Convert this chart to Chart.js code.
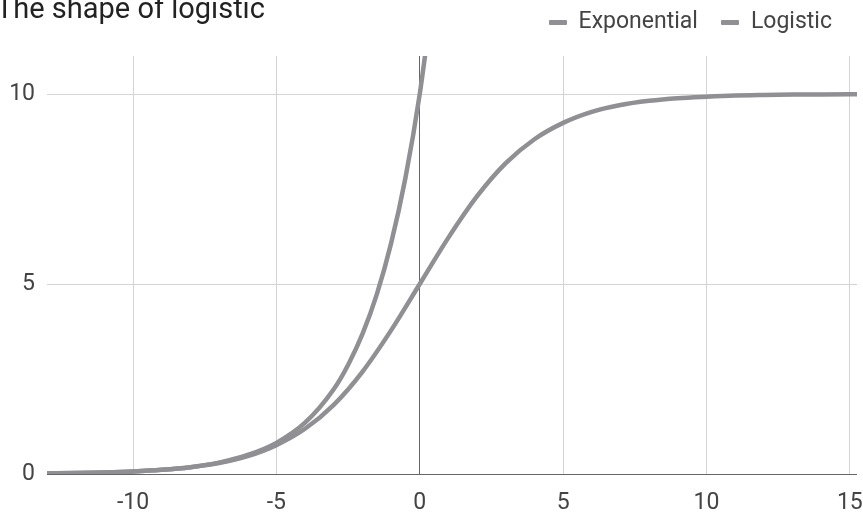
<!DOCTYPE html>
<html>
<head>
<meta charset="utf-8">
<script src="https://cdn.jsdelivr.net/npm/chart.js@4.4.0/dist/chart.umd.min.js"></script>
<style>
  html, body { margin: 0; padding: 0; background: #fff; }
  #wrap { position: relative; width: 863px; height: 514px; overflow: hidden; font-family: Roboto, "Noto Sans", sans-serif; }
  #title { position: absolute; left: -4px; top: -9px; font-size: 29px; color: #222; white-space: nowrap; }
  #legend { position: absolute; right: 31px; top: 7px; font-size: 23px; color: #444; white-space: nowrap; display: flex; align-items: center; }
  .item { display: flex; align-items: center; margin-left: 23px; }
  .sw { display: inline-block; width: 18px; height: 5px; margin-right: 12px; border-radius: 1px; position: relative; top: 2px; }
  canvas { position: absolute; left: 0; top: 0; }
</style>
</head>
<body>
<div id="wrap">
  <canvas id="c" width="863" height="514"></canvas>
  <div id="title">The shape of logistic</div>
  <div id="legend"></div>
</div>
<script>
// Series names
const seriesNames = ["Exponential", "Logistic"];
// Logistic curve
const logisticX = [-13, -12, -11, -10, -9, -8, -7, -6, -5, -4, -3, -2, -1, 0, 1, 2, 3, 4, 5, 6, 7, 8, 9, 10, 11, 12, 13, 14, 15, 15.25];
const logisticY = [0.015, 0.025, 0.041, 0.067, 0.11, 0.18, 0.29, 0.47, 0.76, 1.19, 1.82, 2.69, 3.78, 5.0, 6.22, 7.31, 8.18, 8.81, 9.24, 9.53, 9.71, 9.82, 9.89, 9.93, 9.96, 9.975, 9.985, 9.99, 9.994, 9.995];
// Exponential curve
const expX = [-13, -12, -11, -10, -9, -8, -7, -6, -5, -4, -3, -2.5, -2, -1.5, -1, -0.5, 0, 0.5];
const expY = [0.015, 0.025, 0.041, 0.067, 0.11, 0.18, 0.30, 0.50, 0.82, 1.35, 2.23, 2.87, 3.68, 4.72, 6.07, 7.79, 10.0, 12.84];
// Tick labels
const xTicks = [-10, -5, 0, 5, 10, 15];
const yTicks = [0, 5, 10];

const lineColor = "#8f8f94";
const seriesColors = [lineColor, lineColor];

const toPts = (xs, ys) => xs.map((x, i) => ({ x: x, y: ys[i] }));

// legend
const leg = document.getElementById("legend");
seriesNames.forEach((n, i) => {
  const it = document.createElement("span");
  it.className = "item";
  const sw = document.createElement("span");
  sw.className = "sw";
  sw.style.background = seriesColors[i];
  it.appendChild(sw);
  it.appendChild(document.createTextNode(n));
  leg.appendChild(it);
});

const tickFont = { family: "Roboto", size: 23 };

new Chart(document.getElementById("c"), {
  type: "scatter",
  data: {
    datasets: [
      { label: seriesNames[0], data: toPts(expX, expY), showLine: true, borderColor: seriesColors[0], backgroundColor: seriesColors[0], borderWidth: 4.5, pointRadius: 0, cubicInterpolationMode: "monotone", clip: 0 },
      { label: seriesNames[1], data: toPts(logisticX, logisticY), showLine: true, borderColor: seriesColors[1], backgroundColor: seriesColors[1], borderWidth: 4.5, pointRadius: 0, cubicInterpolationMode: "monotone", clip: 0 }
    ]
  },
  options: {
    responsive: false,
    animation: false,
    layout: { padding: { top: 56, right: 6, left: 0, bottom: 0 } },
    plugins: { legend: { display: false }, title: { display: false }, tooltip: { enabled: false } },
    scales: {
      x: {
        type: "linear", min: -13, max: 15.25,
        afterBuildTicks: s => { s.ticks = xTicks.map(v => ({ value: v })); },
        afterFit: s => { s.height = 40; s.paddingLeft = 0; s.paddingRight = 0; },
        grid: { drawTicks: false, color: c => (c.tick && c.tick.value === 0) ? "#666" : "#d4d4d4", lineWidth: 1 },
        border: { display: false },
        ticks: { font: tickFont, color: "#444", padding: 15, maxRotation: 0, autoSkip: false }
      },
      y: {
        type: "linear", min: 0, max: 11,
        afterBuildTicks: s => { s.ticks = yTicks.map(v => ({ value: v })); },
        afterFit: s => { s.width = 47; s.paddingTop = 0; s.paddingBottom = 0; },
        grid: { drawTicks: false, color: c => (c.tick && c.tick.value === 0) ? "#666" : "#d4d4d4", lineWidth: 1 },
        border: { display: false },
        ticks: { font: tickFont, color: "#444", padding: 12 }
      }
    }
  }
});
</script>
</body>
</html>
